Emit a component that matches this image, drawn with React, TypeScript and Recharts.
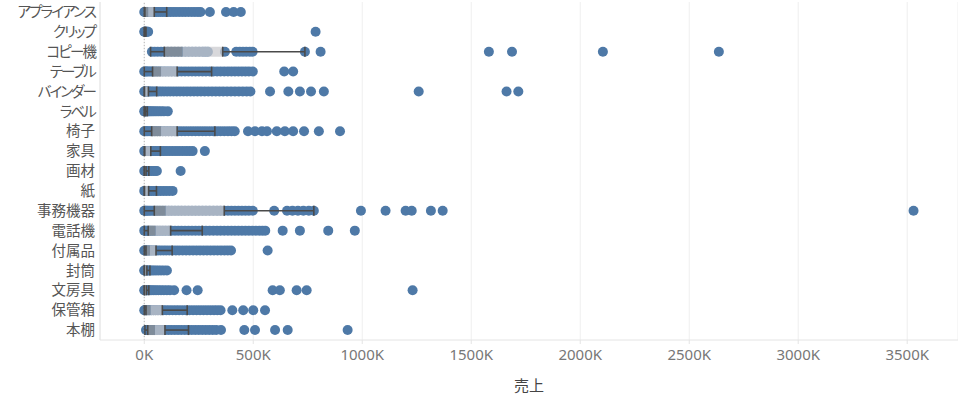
import React from "react";
import {
  ScatterChart, Scatter, XAxis, YAxis, CartesianGrid, ErrorBar, ReferenceLine,
} from "recharts";

// 売上 (K) per sub-category, top to bottom
const categories = [
  "アプライアンス", "クリップ", "コピー機", "テーブル", "バインダー", "ラベル", "椅子", "家具",
  "画材", "紙", "事務機器", "電話機", "付属品", "封筒", "文房具", "保管箱", "本棚",
];

// box plot stats (K)
const lowWhisker = [0, 0, 29, 0, 0, 0, 0, 0, 0, 0, 0, 0, 0, 0, 0, 0, 3];
const q1 = [3, 1, 92, 38, 1, 1, 34, 2, 1, 1, 46, 18, 8, 1, 1, 8, 16];
const median = [18, 2, 176, 77, 3, 3, 77, 5, 3, 3, 98, 52, 26, 3, 3, 29, 49];
const q3 = [46, 4, 360, 151, 19, 6, 151, 30, 8, 20, 367, 121, 54, 12, 10, 83, 95];
const highWhisker = [103, 8, 737, 309, 57, 14, 324, 74, 21, 56, 778, 266, 128, 26, 21, 197, 203];

// individual order sales (K), same order as categories
const salesByCategory = [
  [0, 3, 7, 12, 18, 24, 31, 38, 46, 55, 64, 74, 85, 96, 108, 120, 133, 146, 160, 174, 188, 203, 218, 232, 246, 258, 301, 375, 410, 443],
  [0, 2, 4, 7, 10, 14, 18, 786],
  [35, 48, 62, 77, 92, 108, 124, 140, 156, 172, 188, 204, 220, 236, 252, 268, 280, 292, 370, 422, 438, 453, 468, 484, 497, 737, 809, 1581, 1687, 2104, 2636],
  [0, 4, 9, 15, 22, 30, 39, 49, 60, 72, 85, 98, 112, 126, 141, 156, 171, 187, 203, 219, 235, 251, 267, 283, 300, 317, 334, 350, 367, 384, 400, 416, 432, 448, 464, 480, 498, 642, 683],
  [0, 3, 6, 10, 15, 21, 28, 36, 45, 55, 66, 78, 91, 105, 119, 134, 149, 164, 180, 196, 212, 228, 244, 260, 277, 294, 311, 328, 345, 362, 380, 398, 416, 434, 452, 470, 487, 577, 661, 714, 765, 824, 1259, 1662, 1716],
  [0, 2, 5, 9, 14, 20, 27, 35, 44, 54, 65, 77, 90, 108],
  [0, 4, 9, 15, 22, 30, 39, 49, 60, 72, 85, 98, 112, 126, 141, 156, 171, 187, 203, 219, 235, 251, 267, 283, 300, 317, 334, 350, 367, 384, 400, 415, 476, 508, 540, 563, 608, 645, 683, 733, 801, 898],
  [0, 3, 7, 12, 18, 25, 33, 42, 52, 63, 75, 88, 101, 115, 130, 145, 160, 176, 192, 207, 222, 278],
  [0, 3, 7, 12, 18, 25, 33, 42, 50, 58, 167],
  [0, 3, 7, 12, 18, 25, 33, 42, 52, 63, 75, 88, 101, 115, 130],
  [0, 4, 9, 15, 22, 30, 39, 49, 60, 72, 85, 98, 112, 126, 141, 156, 171, 187, 203, 219, 235, 251, 267, 283, 300, 317, 334, 350, 367, 384, 400, 416, 432, 448, 464, 480, 498, 596, 655, 680, 705, 730, 755, 778, 994, 1107, 1199, 1227, 1315, 1369, 3529],
  [0, 4, 9, 15, 22, 30, 39, 49, 60, 72, 85, 98, 112, 126, 141, 156, 171, 187, 203, 219, 235, 251, 267, 283, 300, 317, 334, 350, 367, 384, 400, 416, 432, 448, 464, 480, 496, 512, 528, 542, 555, 635, 714, 844, 966],
  [0, 3, 7, 12, 18, 25, 33, 42, 52, 63, 75, 88, 101, 115, 130, 145, 160, 176, 192, 208, 224, 240, 256, 272, 288, 304, 320, 336, 352, 368, 383, 398, 566],
  [0, 2, 5, 9, 14, 20, 27, 35, 44, 54, 65, 77, 90, 104],
  [0, 2, 5, 9, 14, 20, 27, 35, 44, 54, 65, 77, 90, 104, 118, 137, 194, 245, 589, 622, 699, 745, 1231],
  [0, 3, 7, 12, 18, 25, 33, 42, 52, 63, 75, 88, 101, 115, 130, 145, 160, 176, 192, 208, 224, 240, 256, 272, 288, 304, 320, 335, 350, 404, 454, 500, 554],
  [8, 14, 21, 29, 38, 48, 59, 71, 84, 97, 111, 125, 140, 155, 170, 186, 202, 218, 234, 250, 266, 282, 298, 314, 330, 352, 459, 508, 600, 658, 933],
];

const xTicks = [0, 500, 1000, 1500, 2000, 2500, 3000, 3500];

const dots = salesByCategory.flatMap((arr, i) => arr.map((x) => ({ x, y: i })));
const rows = categories.map((_, i) => i);
const lowerWhiskerData = rows.map((i) => ({ x: lowWhisker[i], y: i, err: [0, q1[i] - lowWhisker[i]] }));
const lowerBoxData = rows.map((i) => ({ x: q1[i], y: i, err: [0, median[i] - q1[i]] }));
const upperBoxData = rows.map((i) => ({ x: median[i], y: i, err: [0, q3[i] - median[i]] }));
const upperWhiskerData = rows.map((i) => ({ x: q3[i], y: i, err: [0, highWhisker[i] - q3[i]] }));

// eslint-disable-next-line @typescript-eslint/no-explicit-any
const Dot = (p: any) => <circle cx={p.cx} cy={p.cy} r={5} fill="#4e79a7" />;
const Hidden = () => <g />;

const jp = "'Noto Sans CJK JP', 'Noto Sans', sans-serif";

// katakana labels are set tighter, like the proportional kana in the original
// eslint-disable-next-line @typescript-eslint/no-explicit-any
const YTick = ({ x, y, payload }: any) => {
  const label = categories[payload.value];
  const kana = /[\u30a0-\u30ff]/.test(label);
  return (
    <text x={x} y={y} dy="0.355em" textAnchor="end" fill="#555" fontSize={14.5} fontFamily={jp}
      letterSpacing={kana ? -1.9 : 0} style={{ fontFeatureSettings: '"palt"' }}>
      {label}
    </text>
  );
};

export default function App() {
  return (
    <div style={{ width: 958, height: 403, background: "#fff" }}>
      <style>{`body{margin:0}`}</style>
      <ScatterChart width={958} height={403} margin={{ top: 2, right: 0, bottom: 0, left: 0 }}>
        <CartesianGrid horizontal={false} stroke="#efefef" />
        <XAxis
          type="number" dataKey="x" domain={[-203, 3733]} allowDataOverflow ticks={xTicks}
          tickFormatter={(v) => `${v}K`} height={63}
          tick={{ fill: "#777", fontSize: 15, fontFamily: "'Noto Sans', sans-serif" }}
          axisLine={{ stroke: "#e4e4e4" }} tickLine={{ stroke: "#e4e4e4" }} tickSize={4} tickMargin={5}
          label={{ value: "売上", position: "insideBottom", offset: 12, fill: "#444", fontSize: 15, fontFamily: jp }}
        />
        <YAxis
          type="number" dataKey="y" domain={[-0.5, 16.5]} allowDataOverflow reversed ticks={rows}
          interval={0} width={100} tick={<YTick />}
          axisLine={{ stroke: "#e4e4e4" }} tickLine={false} tickSize={0} tickMargin={5}
        />
        <ReferenceLine x={0} stroke="#b8b8b8" strokeDasharray="1 2" />
        <Scatter data={dots} shape={Dot} isAnimationActive={false} zIndex={50} />
        <Scatter data={lowerBoxData} shape={Hidden} isAnimationActive={false} zIndex={700}>
          <ErrorBar dataKey="err" direction="x" width={0} stroke="#919396" strokeWidth={10} strokeOpacity={0.73} isAnimationActive={false} zIndex={700} />
        </Scatter>
        <Scatter data={upperBoxData} shape={Hidden} isAnimationActive={false} zIndex={700}>
          <ErrorBar dataKey="err" direction="x" width={0} stroke="#c9cacd" strokeWidth={10} strokeOpacity={0.73} isAnimationActive={false} zIndex={700} />
        </Scatter>
        <Scatter data={lowerWhiskerData} shape={Hidden} isAnimationActive={false} zIndex={710}>
          <ErrorBar dataKey="err" direction="x" width={5} stroke="#4a4a4a" strokeWidth={1.6} isAnimationActive={false} zIndex={710} />
        </Scatter>
        <Scatter data={upperWhiskerData} shape={Hidden} isAnimationActive={false} zIndex={710}>
          <ErrorBar dataKey="err" direction="x" width={5} stroke="#4a4a4a" strokeWidth={1.6} isAnimationActive={false} zIndex={710} />
        </Scatter>
      </ScatterChart>
    </div>
  );
}
